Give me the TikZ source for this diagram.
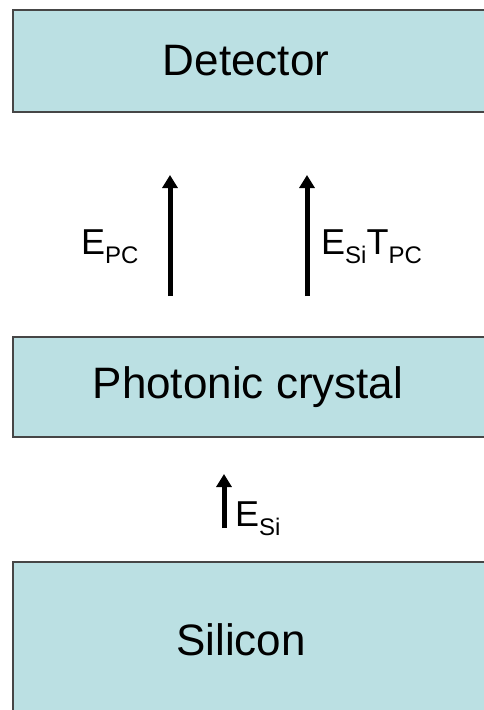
\documentclass[tikz,border=0pt]{standalone}
\usepackage{fontspec}
\setmainfont{Liberation Sans}
\usetikzlibrary{arrows.meta,positioning}
\definecolor{layerfill}{RGB}{187,224,227}
\definecolor{layeredge}{RGB}{70,70,70}
\newcommand{\lsub}[1]{\raisebox{-9pt}{\fontsize{24}{24}\selectfont #1}}

\begin{document}
\begin{tikzpicture}[x=1pt, y=-1pt, >={Triangle[width=15pt,length=13pt]}]
	\tikzset{
		layer/.style={rectangle, fill=layerfill, draw=layeredge, line width=1.3pt,
			minimum width=480pt, inner sep=0pt, font=\fontsize{44}{44}\selectfont},
		field/.style={line width=5pt, ->},
		fieldlab/.style={inner sep=0pt, anchor=base west, font=\fontsize{36}{36}\selectfont}
	}
	\useasboundingbox (0,0) rectangle (484,710);
	\clip (0,0) rectangle (484,710);
	\fill[white] (0,0) rectangle (484,710);

	% lagen
	\node[layer, minimum height=102pt] (det) at (253,61) {Detector\kern14pt};
	\node[layer, minimum height=100pt] (pc) at (253,387) {Photonic crystal\kern10pt};
	\node[layer, minimum height=156pt] (si) at (253,640) {Silicon\kern24pt};

	% pijlen
	\path
	(170,296) coordinate (a1)
	(170,175) coordinate (b1)
	(307,296) coordinate (a2)
	(307,175) coordinate (b2)
	(224,528) coordinate (a3)
	(224,474) coordinate (b3);

	\draw[field] (a1) -- (b1);
	\draw[field] (a2) -- (b2);
	\draw[field] (a3) -- (b3);

	% labels
	\node[fieldlab] (epc) at (81,254) {E\lsub{PC}};
	\node[fieldlab] (esitpc) at (321,254) {E\lsub{Si}T\lsub{PC}};
	\node[fieldlab] (esi) at (235,526) {E\lsub{Si}};
\end{tikzpicture}
\end{document}
